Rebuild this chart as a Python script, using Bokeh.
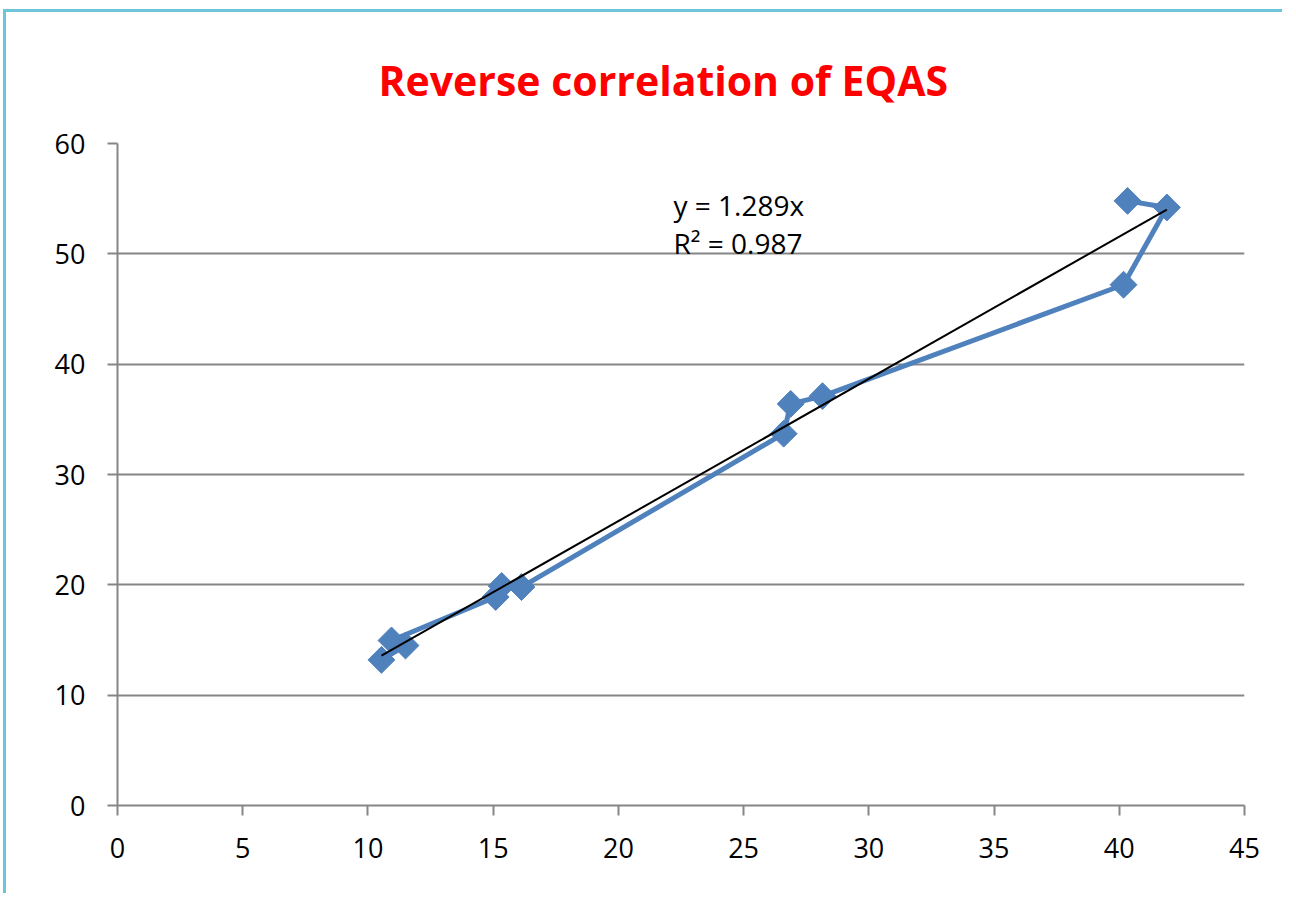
import numpy as np
from bokeh.plotting import figure
from bokeh.models import Label, FixedTicker, Range1d
from bokeh.embed import file_html
from bokeh.resources import INLINE

# data
x_vals = [10.54, 11.5, 10.94, 15.1, 15.34, 16.13, 26.6, 26.88, 28.15, 40.17, 41.9, 40.33]
y_vals = [13.2, 14.5, 14.96, 18.9, 19.9, 19.8, 33.7, 36.4, 37.1, 47.2, 54.2, 54.8]
trend_slope = 1.289
r_squared = 0.987
title_text = "Reverse correlation of EQAS"
x_ticks = [0, 5, 10, 15, 20, 25, 30, 35, 40, 45]
y_ticks = [0, 10, 20, 30, 40, 50, 60]

FONT = "Open Sans"
BLUE = "#4F81BD"
GRID = "#868686"

p = figure(width=1279, height=884, output_backend="svg", toolbar_location=None,
           x_range=Range1d(0, 45), y_range=Range1d(0, 60),
           min_border_left=111, min_border_right=41, min_border_top=131, min_border_bottom=91)
p.styles = {"border-top": "3px solid #6CC5D8", "border-left": "3px solid #6CC5D8",
            "margin-top": "9px", "margin-left": "3px"}
p.outline_line_color = None
p.background_fill_color = "white"
p.border_fill_color = "white"

p.title.text = title_text
p.title.text_font = FONT
p.title.text_font_size = "41px"
p.title.text_font_style = "bold"
p.title.text_color = "#FF0000"
p.title.align = "left"
p.title.offset = 261
p.title.standoff = 71

p.xgrid.visible = False
p.ygrid.grid_line_color = GRID
p.ygrid.grid_line_width = 2
p.ygrid.ticker = FixedTicker(ticks=y_ticks)

for ax in (p.xaxis[0], p.yaxis[0]):
    ax.axis_line_color = GRID
    ax.axis_line_width = 2
    ax.major_tick_line_color = GRID
    ax.major_tick_line_width = 2
    ax.major_tick_in = 0
    ax.major_tick_out = 10
    ax.minor_tick_line_color = None
    ax.major_label_text_font = FONT
    ax.major_label_text_font_size = "27px"
    ax.major_label_text_color = "black"
p.xaxis.ticker = FixedTicker(ticks=x_ticks)
p.yaxis.ticker = FixedTicker(ticks=y_ticks)
p.xaxis.major_label_standoff = 22
p.yaxis.major_label_standoff = 22

# series
p.line(x_vals, y_vals, line_color=BLUE, line_width=5)
p.scatter(x_vals, y_vals, marker="square", size=19, angle=np.pi / 4,
          fill_color=BLUE, line_color=BLUE)

# trendline through origin
tx = np.array([min(x_vals), max(x_vals)])
p.line(tx, trend_slope * tx, line_color="black", line_width=2)

p.add_layout(Label(x=22.2, y=54.4, text=f"y = {trend_slope}x", text_font=FONT,
                   text_font_size="28px", text_baseline="middle", text_color="black"))
p.add_layout(Label(x=22.2, y=51.0, text=f"R² = {r_squared}", text_font=FONT,
                   text_font_size="28px", text_baseline="middle", text_color="black"))

open("out.html", "w").write(file_html(p, INLINE))
